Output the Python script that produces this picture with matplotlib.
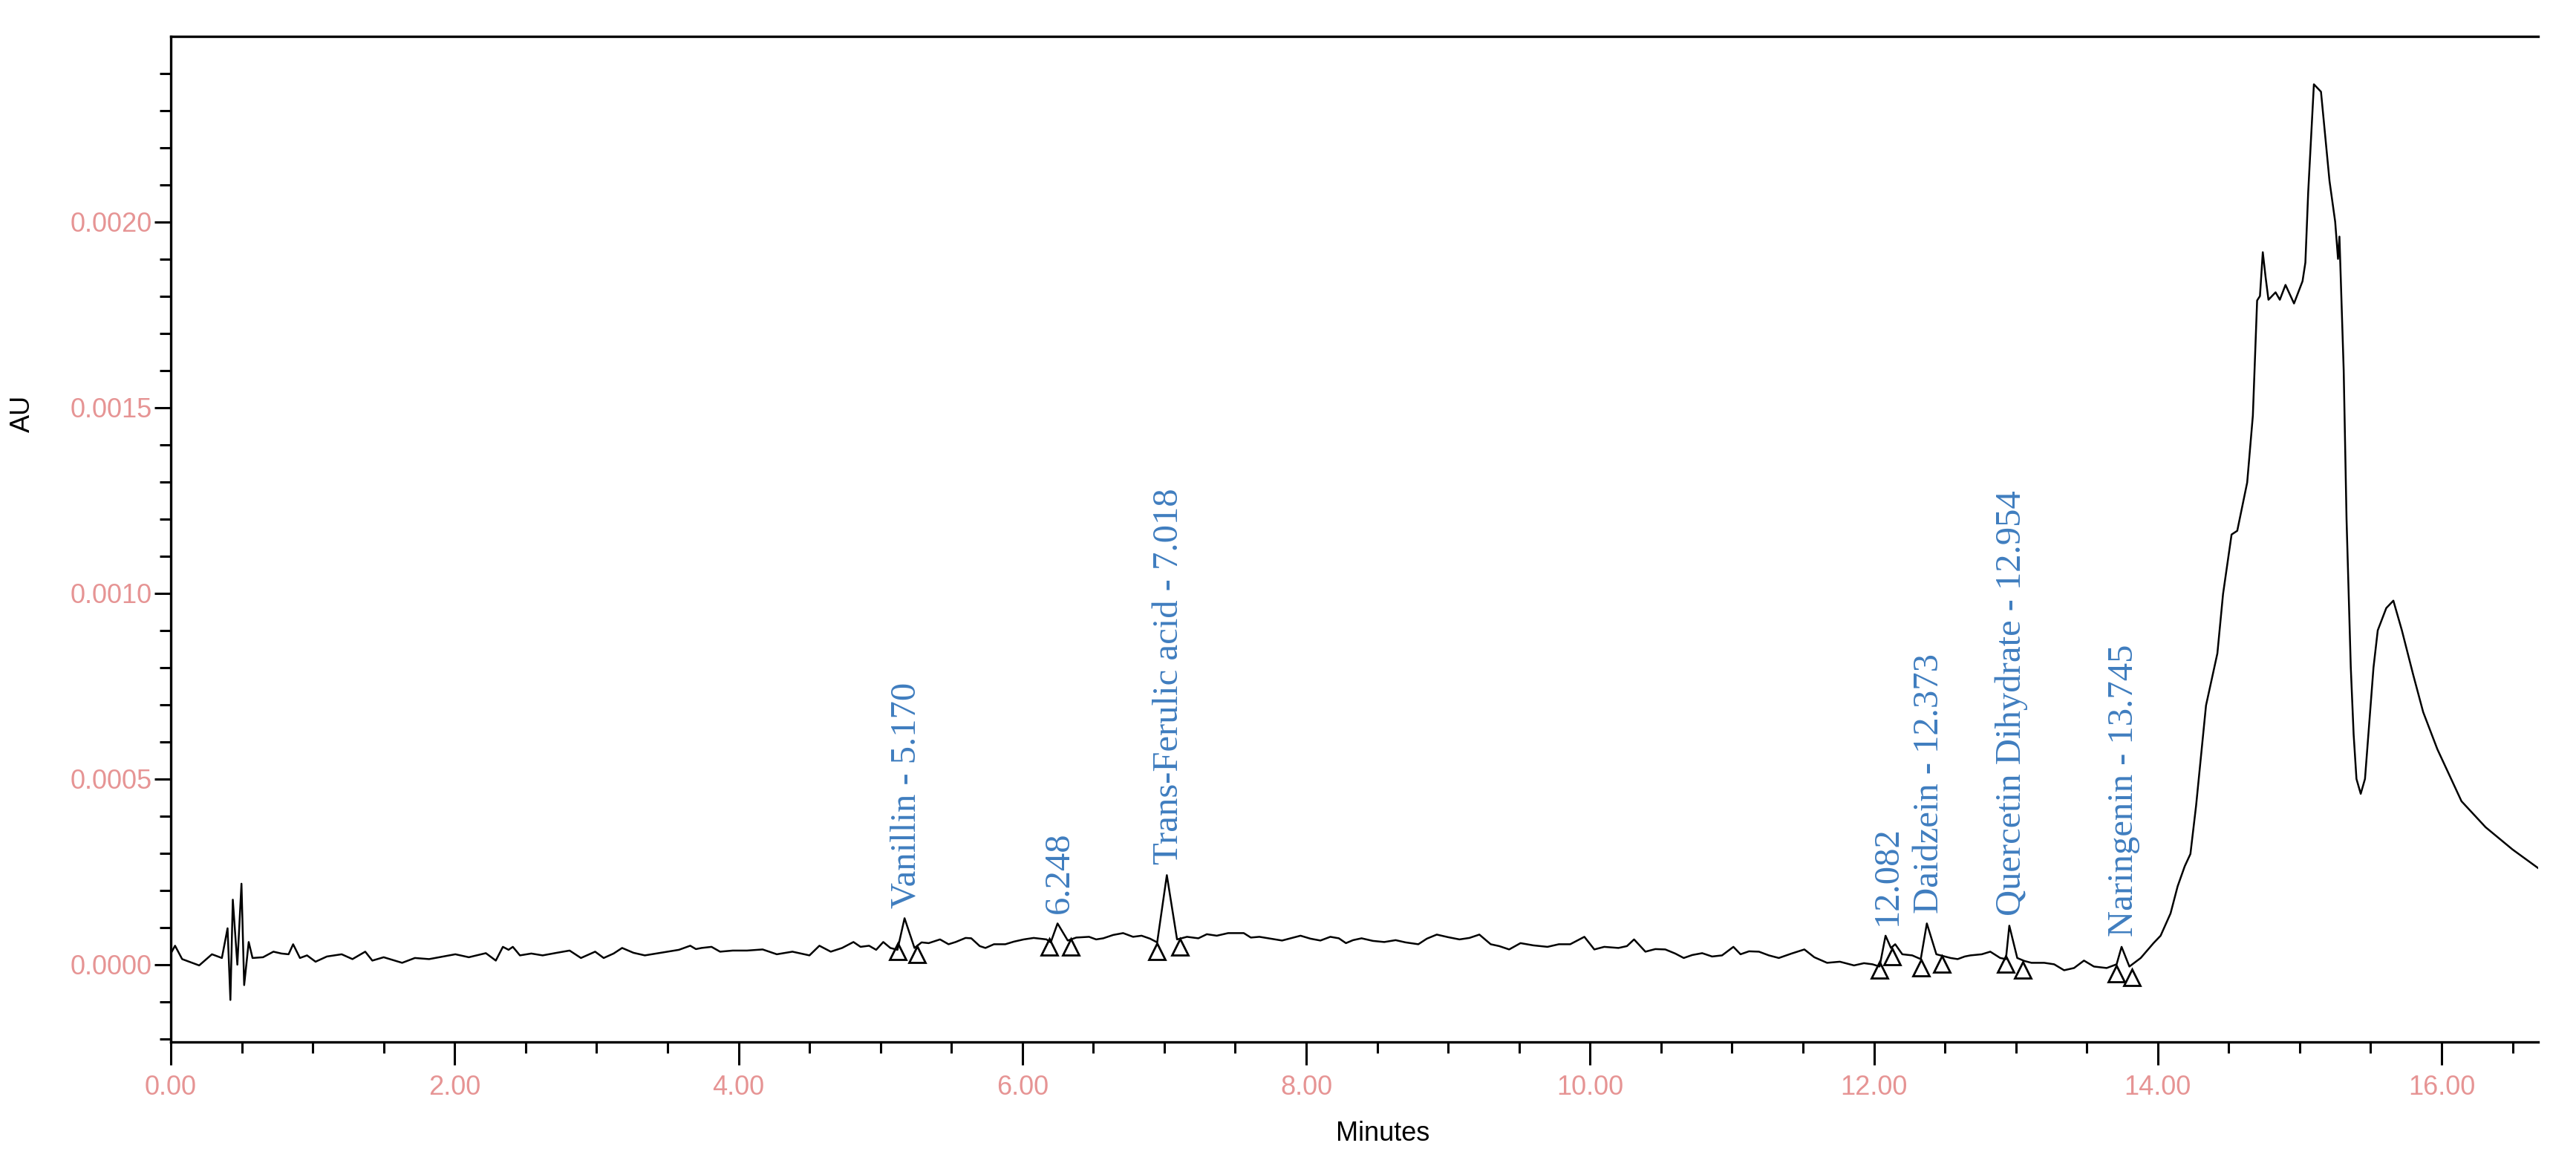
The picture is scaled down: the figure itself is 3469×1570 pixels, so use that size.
import numpy as np
import matplotlib
matplotlib.use('Agg')
import matplotlib.pyplot as plt
from matplotlib.ticker import MultipleLocator, FormatStrFormatter

# chromatogram trace (minutes, AU)
time_min = [0.00, 0.03, 0.08, 0.20, 0.29, 0.36, 0.40, 0.42, 0.437, 0.469, 0.498, 0.517, 0.549, 0.576,
            0.65, 0.723, 0.78, 0.83, 0.862, 0.91, 0.96, 1.02, 1.10, 1.204, 1.28, 1.37, 1.42, 1.50,
            1.63, 1.72, 1.82, 1.92, 2.005, 2.10, 2.22, 2.29, 2.34, 2.38, 2.41, 2.46, 2.54, 2.62,
            2.72, 2.81, 2.89, 2.99, 3.05, 3.12, 3.18, 3.26, 3.34, 3.42, 3.50, 3.58, 3.66, 3.70,
            3.74, 3.81, 3.87, 3.96, 4.06, 4.17, 4.27, 4.38, 4.50, 4.57, 4.65, 4.73, 4.81, 4.86,
            4.92, 4.97, 5.02, 5.07, 5.12, 5.17, 5.24, 5.29, 5.34, 5.42, 5.48, 5.53, 5.60, 5.64,
            5.70, 5.74, 5.80, 5.88, 5.94, 6.01, 6.08, 6.17, 6.20, 6.248, 6.32, 6.38, 6.47, 6.52,
            6.57, 6.64, 6.71, 6.78, 6.84, 6.90, 6.95, 7.018, 7.09, 7.16, 7.24, 7.30, 7.37, 7.45,
            7.56, 7.61, 7.67, 7.75, 7.83, 7.90, 7.96, 8.03, 8.10, 8.17, 8.23, 8.28, 8.33, 8.39,
            8.47, 8.55, 8.63, 8.70, 8.79, 8.85, 8.92, 9.00, 9.08, 9.15, 9.22, 9.30, 9.36, 9.43,
            9.51, 9.60, 9.70, 9.78, 9.86, 9.96, 10.03, 10.10, 10.20, 10.26, 10.31, 10.39, 10.46,
            10.53, 10.60, 10.66, 10.72, 10.79, 10.86, 10.93, 11.01, 11.06, 11.12, 11.19, 11.26,
            11.33, 11.42, 11.51, 11.58, 11.67, 11.76, 11.86, 11.93, 11.99, 12.04, 12.082, 12.12,
            12.15, 12.20, 12.27, 12.33, 12.373, 12.44, 12.50, 12.54, 12.59, 12.64, 12.68, 12.76,
            12.82, 12.89, 12.93, 12.954, 13.01, 13.06, 13.11, 13.20, 13.27, 13.34, 13.41, 13.48,
            13.55, 13.64, 13.71, 13.745, 13.80, 13.88, 13.97, 14.02, 14.09, 14.14, 14.19, 14.23,
            14.27, 14.34, 14.42, 14.46, 14.52, 14.56, 14.63, 14.67, 14.70, 14.72, 14.74, 14.76,
            14.78, 14.83, 14.86, 14.90, 14.96, 15.02, 15.04, 15.06, 15.10, 15.15, 15.21, 15.25,
            15.27, 15.28, 15.31, 15.33, 15.36, 15.38, 15.40, 15.43, 15.46, 15.49, 15.52, 15.55,
            15.58, 15.61, 15.66, 15.72, 15.80, 15.87, 15.97, 16.14, 16.31, 16.50, 16.68]

au = [0.000030, 0.000051, 0.000015, -0.000002, 0.000028, 0.000018, 0.000098, -0.000095, 0.000175, 0.000000,
      0.000218, -0.000055, 0.000061, 0.000018, 0.000020, 0.000035, 0.000030, 0.000028, 0.000055, 0.000018,
      0.000025, 0.000008, 0.000022, 0.000028, 0.000015, 0.000035, 0.000011, 0.000020, 0.000005, 0.000018,
      0.000015, 0.000022, 0.000028, 0.000020, 0.000031, 0.000011, 0.000048, 0.000040, 0.000048, 0.000025,
      0.000030, 0.000025, 0.000032, 0.000038, 0.000018, 0.000035, 0.000018, 0.000030, 0.000045, 0.000032,
      0.000025, 0.000030, 0.000035, 0.000040, 0.000051, 0.000042, 0.000045, 0.000048, 0.000035, 0.000038,
      0.000038, 0.000041, 0.000028, 0.000035, 0.000025, 0.000051, 0.000035, 0.000045, 0.000061, 0.000048,
      0.000051, 0.000040, 0.000061, 0.000045, 0.000040, 0.000125, 0.000045, 0.000060, 0.000058, 0.000068,
      0.000055, 0.000061, 0.000072, 0.000071, 0.000050, 0.000045, 0.000055, 0.000055, 0.000062, 0.000068,
      0.000072, 0.000068, 0.000060, 0.000111, 0.000065, 0.000073, 0.000075, 0.000068, 0.000071, 0.000080,
      0.000085, 0.000075, 0.000078, 0.000070, 0.000060, 0.000241, 0.000068, 0.000075, 0.000071, 0.000082,
      0.000078, 0.000085, 0.000085, 0.000073, 0.000075, 0.000070, 0.000065, 0.000072, 0.000078, 0.000070,
      0.000065, 0.000075, 0.000071, 0.000058, 0.000066, 0.000071, 0.000064, 0.000061, 0.000066, 0.000060,
      0.000055, 0.000070, 0.000081, 0.000074, 0.000068, 0.000072, 0.000081, 0.000055, 0.000050, 0.000041,
      0.000058, 0.000052, 0.000048, 0.000055, 0.000055, 0.000075, 0.000041, 0.000048, 0.000045, 0.000050,
      0.000068, 0.000035, 0.000042, 0.000041, 0.000030, 0.000018, 0.000026, 0.000031, 0.000022, 0.000025,
      0.000048, 0.000028, 0.000036, 0.000035, 0.000025, 0.000018, 0.000030, 0.000041, 0.000020, 0.000005,
      0.000008, -0.000002, 0.000004, 0.000001, -0.000005, 0.000078, 0.000045, 0.000055, 0.000028, 0.000025,
      0.000015, 0.000111, 0.000028, 0.000022, 0.000018, 0.000015, 0.000022, 0.000025, 0.000028, 0.000035,
      0.000018, 0.000015, 0.000105, 0.000018, 0.000010, 0.000005, 0.000005, 0.000001, -0.000015, -0.000009,
      0.000011, -0.000005, -0.000009, 0.000001, 0.000048, -0.000005, 0.000018, 0.000058, 0.000078, 0.000138,
      0.000211, 0.000265, 0.000298, 0.000428, 0.000698, 0.000838, 0.000998, 0.001158, 0.001168, 0.001298,
      0.001478, 0.001788, 0.001800, 0.001918, 0.001850, 0.001790, 0.001810, 0.001790, 0.001830, 0.001780,
      0.001840, 0.001890, 0.002080, 0.002370, 0.002350, 0.002110, 0.002000, 0.001900, 0.001960, 0.001600,
      0.001200, 0.000800, 0.000620, 0.000500, 0.000460, 0.000500, 0.000650, 0.000800, 0.000900, 0.000930,
      0.000960, 0.000980, 0.000900, 0.000780, 0.000680, 0.000580, 0.000440, 0.000370, 0.000310, 0.000260]

# integrated peaks
peak_names = ['Vanillin - 5.170', '6.248', 'Trans-Ferulic acid - 7.018', '12.082',
              'Daidzein - 12.373', 'Quercetin Dihydrate - 12.954', 'Naringenin - 13.745']
peak_rt = [5.17, 6.248, 7.018, 12.082, 12.373, 12.954, 13.745]
peak_apex = [0.000125, 0.000111, 0.000241, 0.000078, 0.000111, 0.000105, 0.000048]
start_t = [5.12, 6.19, 6.95, 12.04, 12.33, 12.93, 13.71]
start_au = [0.000035, 0.000048, 0.000035, -0.000015, -0.000009, 0.000001, -0.000025]
end_t = [5.26, 6.34, 7.11, 12.13, 12.48, 13.05, 13.82]
end_au = [0.000028, 0.000048, 0.000048, 0.000021, 0.000001, -0.000015, -0.000035]

tick_color = '#e69494'
label_blue = '#3f7dbf'

fig = plt.figure(figsize=(17.345, 7.85), dpi=200)
ax = fig.add_axes([0.0663, 0.1064, 0.919, 0.8624])

ax.plot(time_min, au, color='black', lw=0.9)
ax.plot(start_t, start_au, linestyle='none', marker='^', ms=8, mfc='none', mec='black', mew=1.0)
ax.plot(end_t, end_au, linestyle='none', marker='^', ms=8, mfc='none', mec='black', mew=1.0)

for name, rt, top in zip(peak_names, peak_rt, peak_apex):
    ax.annotate(name, xy=(rt, top), xytext=(1, 5), textcoords='offset points',
                rotation=90, ha='center', va='bottom', color=label_blue,
                fontsize=17.5, family='Liberation Serif')

ax.set_xlim(0, 16.68)
# just under 0.0025 so the frame value gets no tick or label
ax.set_ylim(-0.000208, 0.002499)

ax.xaxis.set_major_locator(MultipleLocator(2))
ax.xaxis.set_minor_locator(MultipleLocator(0.5))
ax.xaxis.set_major_formatter(FormatStrFormatter('%.2f'))
ax.yaxis.set_major_locator(MultipleLocator(0.0005))
ax.yaxis.set_minor_locator(MultipleLocator(0.0001))
ax.yaxis.set_major_formatter(FormatStrFormatter('%.4f'))

ax.tick_params(axis='x', which='major', length=11, width=1.1, pad=5,
               labelsize=13, labelcolor=tick_color)
ax.tick_params(axis='x', which='minor', length=5.5, width=1.1)
ax.tick_params(axis='y', which='major', length=8, width=1.1, pad=1,
               labelsize=13, labelcolor=tick_color)
ax.tick_params(axis='y', which='minor', length=5.5, width=1.1)
for lab in ax.get_xticklabels() + ax.get_yticklabels():
    lab.set_family('Liberation Sans')

ax.spines['right'].set_visible(False)
for s in ['left', 'bottom', 'top']:
    ax.spines[s].set_linewidth(1.2)

ax.set_xlabel('Minutes', fontsize=13, family='Liberation Sans', color='black')
ax.set_ylabel('AU', fontsize=13, family='Liberation Sans', color='black')
ax.xaxis.set_label_coords(0.512, -0.078)
ax.yaxis.set_label_coords(-0.057, 0.625)

fig.savefig('out.png', dpi=200)
